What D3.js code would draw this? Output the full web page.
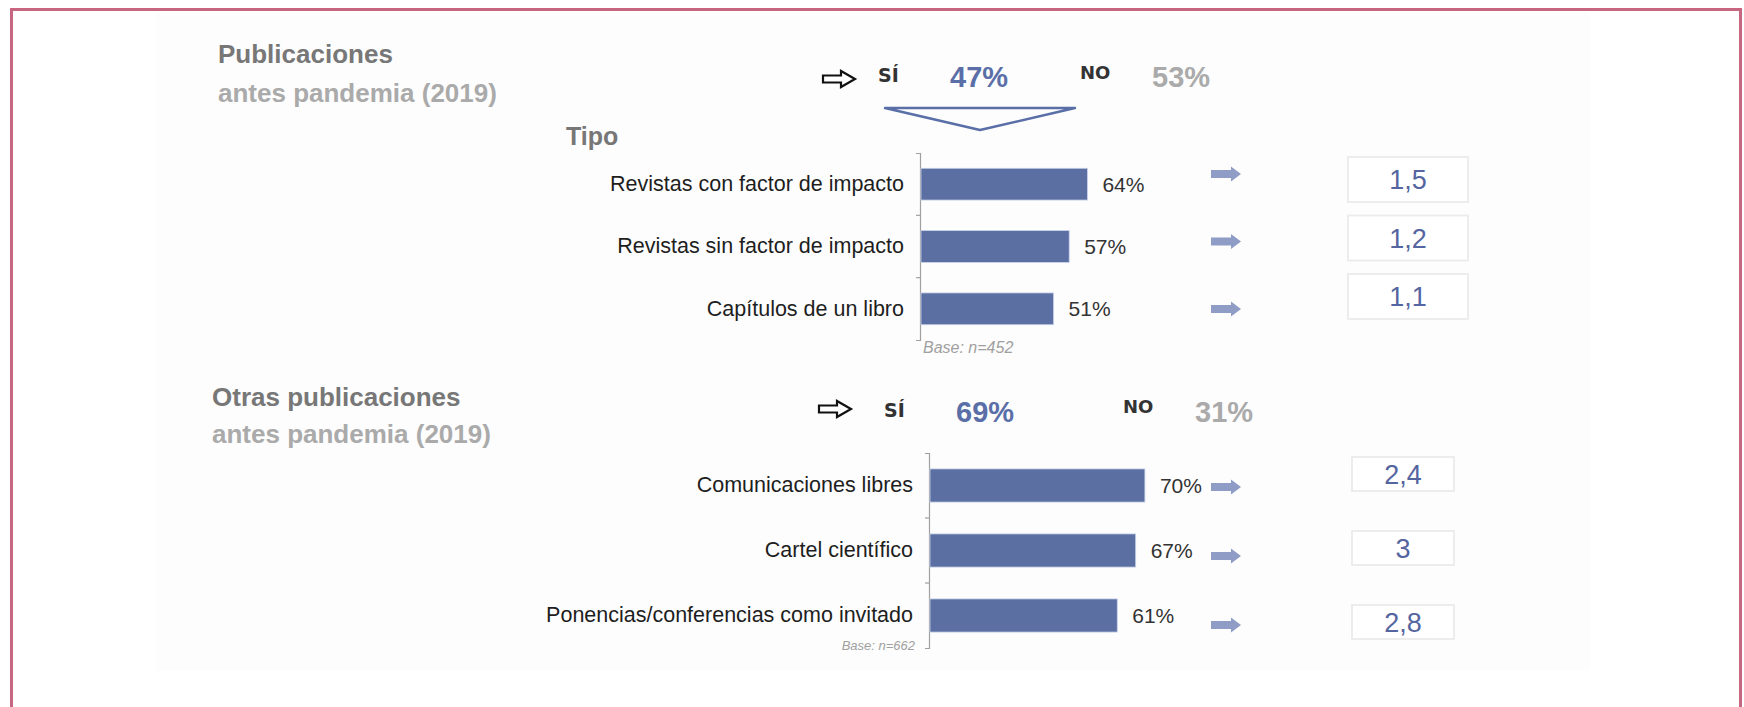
<!doctype html>
<html lang="es">
    <head>
        <meta charset="utf-8">
        <script src="https://d3js.org/d3.v7.min.js"></script>
        <title>Publicaciones antes pandemia</title>
        <style>
            body { margin: 0; background: #fff; }
            text { font-family: "Liberation Sans", Arial, sans-serif; }
        </style>
    </head>
    <body>
        <div id="my_dataviz"></div>

        <script>
            // Data
            var blockTitles = ["Publicaciones", "Otras publicaciones"]
            var blockSubtitles = ["antes pandemia (2019)", "antes pandemia (2019)"]
            var siPct = [47, 69]
            var noPct = [53, 31]

            var cats1 = ["Revistas con factor de impacto", "Revistas sin factor de impacto", "Capítulos de un libro"]
            var vals1 = [64, 57, 51]
            var boxes1 = ["1,5", "1,2", "1,1"]
            var base1 = "Base: n=452"

            var cats2 = ["Comunicaciones libres", "Cartel científico", "Ponencias/conferencias como invitado"]
            var vals2 = [70, 67, 61]
            var boxes2 = ["2,4", "3", "2,8"]
            var base2 = "Base: n=662"

            var width = 1744
            var height = 707
            var blue = "#5b6fa3"
            var lightBlue = "#8f9cc6"

            var svg = d3.select("#my_dataviz")
              .append("svg")
                .attr("width", width)
                .attr("height", height)

            // light panel and pink frame
            svg.append("rect")
                .attr("x", 156).attr("y", 12)
                .attr("width", 1434).attr("height", 659)
                .attr("fill", "#fdfdfd")
            svg.append("rect")
                .attr("x", 11.5).attr("y", 9.5)
                .attr("width", 1729).attr("height", 720)
                .attr("fill", "none")
                .attr("stroke", "#c76680")
                .attr("stroke-width", 3)

            // layout of each block (positions only)
            var layout = [
                { titleX: 218, titleY: 63, subY: 102, row: 79, arrowX: 823, siX: 878, pctX: 950, noX: 1080, noPctX: 1152,
                  axisX: 920, top: 153, bottom: 340, len: 260, baseSize: 16, baseAnchor: "start",
                  boxX: 1348, boxW: 120, boxTop: 157, boxBottom: 319, boxPad: 0.23, arrTop: 174, arrBottom: 309 },
                { titleX: 212, titleY: 406, subY: 443, row: 409, arrowX: 819, siX: 884, pctX: 956, noX: 1123, noPctX: 1195,
                  axisX: 929, top: 453, bottom: 648, len: 307, baseSize: 13, baseAnchor: "end",
                  boxX: 1352, boxW: 102, boxTop: 457, boxBottom: 639, boxPad: 0.54, arrTop: 487, arrBottom: 625 }
            ]
            var cats = [cats1, cats2]
            var vals = [vals1, vals2]
            var boxes = [boxes1, boxes2]
            var bases = [base1, base2]

            // outline arrow ⇨ and solid blue arrow shapes
            function hollowArrow(x, y) {
                return "M" + x + "," + (y - 3.5) + "H" + (x + 18) + "V" + (y - 8) + "L" + (x + 32) + "," + y +
                       "L" + (x + 18) + "," + (y + 8) + "V" + (y + 3.5) + "H" + x + "Z"
            }
            function solidArrow(x, y) {
                return "M" + x + "," + (y - 4) + "H" + (x + 20) + "V" + (y - 7.5) + "L" + (x + 30) + "," + y +
                       "L" + (x + 20) + "," + (y + 7.5) + "V" + (y + 4) + "H" + x + "Z"
            }

            layout.forEach(function(L, b) {
                var g = svg.append("g")

                // block title
                g.append("text")
                    .attr("x", L.titleX).attr("y", L.titleY)
                    .attr("font-size", 26).attr("font-weight", "bold")
                    .attr("fill", "#777")
                    .text(blockTitles[b])
                g.append("text")
                    .attr("x", L.titleX).attr("y", L.subY)
                    .attr("font-size", 26).attr("font-weight", "bold")
                    .attr("fill", "#aaa")
                    .text(blockSubtitles[b])

                // SÍ / NO row
                g.append("path")
                    .attr("d", hollowArrow(L.arrowX, L.row))
                    .attr("fill", "#fff").attr("stroke", "#111").attr("stroke-width", 2.2)
                g.append("text")
                    .attr("x", L.siX).attr("y", L.row + 3 + b * 5)
                    .attr("font-size", 19).attr("font-weight", "bold").attr("fill", "#333")
                    .style("font-family", "'DejaVu Sans', sans-serif")
                    .text("SÍ")
                g.append("text")
                    .attr("x", L.pctX).attr("y", L.row + 8 + b * 5)
                    .attr("font-size", 29).attr("font-weight", "bold").attr("fill", "#5a6fa8")
                    .text(siPct[b] + "%")
                g.append("text")
                    .attr("x", L.noX).attr("y", L.row + b * 4)
                    .attr("font-size", 18).attr("font-weight", "bold").attr("fill", "#333")
                    .style("font-family", "'DejaVu Sans', sans-serif")
                    .text("NO")
                g.append("text")
                    .attr("x", L.noPctX).attr("y", L.row + 8 + b * 5)
                    .attr("font-size", 29).attr("font-weight", "bold").attr("fill", "#aaa")
                    .text(noPct[b] + "%")

                // scales
                var y = d3.scaleBand()
                    .domain(cats[b])
                    .range([L.top, L.bottom])
                    .paddingInner(0.49)
                    .paddingOuter(0.245)
                var x = d3.scaleLinear()
                    .domain([0, 100])
                    .range([L.axisX + 1, L.axisX + 1 + L.len])

                // axis with labels
                var axis = g.append("g")
                    .attr("transform", "translate(" + L.axisX + ",0)")
                    .call(d3.axisLeft(y).tickSize(0).tickSizeOuter(4).tickPadding(16))
                axis.select(".domain").attr("stroke", "#a0a0a0").attr("stroke-width", 1.2)
                axis.selectAll("text")
                    .attr("font-size", 21.5)
                    .attr("fill", "#1e1e1e")
                    .style("font-family", "'Liberation Sans', Arial, sans-serif")

                // boundary ticks between categories
                var step = y.step()
                g.selectAll(".sep")
                    .data(cats[b].slice(1))
                    .enter()
                    .append("line")
                    .attr("x1", L.axisX - 4).attr("x2", L.axisX)
                    .attr("y1", function(d){ return y(d) - (step - y.bandwidth()) / 2 })
                    .attr("y2", function(d){ return y(d) - (step - y.bandwidth()) / 2 })
                    .attr("stroke", "#a0a0a0").attr("stroke-width", 1.2)

                // bars
                g.selectAll(".bar")
                    .data(vals[b])
                    .enter()
                    .append("rect")
                    .attr("x", x(0))
                    .attr("y", function(d, i){ return y(cats[b][i]) })
                    .attr("width", function(d){ return x(d) - x(0) })
                    .attr("height", y.bandwidth())
                    .attr("fill", blue)
                    .attr("stroke", "#c9d3ea")
                    .attr("stroke-width", 0.8)

                // value labels
                g.selectAll(".val")
                    .data(vals[b])
                    .enter()
                    .append("text")
                    .attr("x", function(d){ return x(d) + 15 })
                    .attr("y", function(d, i){ return y(cats[b][i]) + y.bandwidth() / 2 })
                    .attr("dy", "0.36em")
                    .attr("font-size", 21)
                    .attr("fill", "#333")
                    .text(function(d){ return d + "%" })

                // base note
                g.append("text")
                    .attr("x", L.baseAnchor === "start" ? L.axisX + 3 : L.axisX - 14)
                    .attr("y", L.bottom + (b === 0 ? 13 : 2))
                    .attr("text-anchor", L.baseAnchor)
                    .attr("font-size", L.baseSize)
                    .attr("font-style", "italic")
                    .attr("fill", "#a0a0a0")
                    .text(bases[b])

                // blue arrows
                var ya = d3.scalePoint()
                    .domain(d3.range(boxes[b].length))
                    .range([L.arrTop, L.arrBottom])
                g.selectAll(".arr")
                    .data(boxes[b])
                    .enter()
                    .append("path")
                    .attr("d", function(d, i){ return solidArrow(1211, ya(i)) })
                    .attr("fill", lightBlue)

                // value boxes
                var yb = d3.scaleBand()
                    .domain(d3.range(boxes[b].length))
                    .range([L.boxTop, L.boxBottom])
                    .paddingInner(L.boxPad)
                g.selectAll(".box")
                    .data(boxes[b])
                    .enter()
                    .append("rect")
                    .attr("x", L.boxX)
                    .attr("y", function(d, i){ return yb(i) })
                    .attr("width", L.boxW)
                    .attr("height", yb.bandwidth())
                    .attr("fill", "#fff")
                    .attr("stroke", "#ebebeb")
                    .attr("stroke-width", 1.8)
                g.selectAll(".boxText")
                    .data(boxes[b])
                    .enter()
                    .append("text")
                    .attr("x", L.boxX + L.boxW / 2)
                    .attr("y", function(d, i){ return yb(i) + yb.bandwidth() / 2 })
                    .attr("dy", "0.36em")
                    .attr("text-anchor", "middle")
                    .attr("font-size", 27)
                    .attr("fill", "#5565a0")
                    .text(function(d){ return d })
            })

            // "Tipo" and the funnel triangle of the first block
            svg.append("text")
                .attr("x", 566).attr("y", 145)
                .attr("font-size", 25).attr("font-weight", "bold")
                .attr("fill", "#777")
                .text("Tipo")
            svg.append("path")
                .attr("d", "M885,108H1075L980,130Z")
                .attr("fill", "none")
                .attr("stroke", "#5a6fa8")
                .attr("stroke-width", 2.5)
                .attr("stroke-linejoin", "round")
        </script>
    </body>
</html>
